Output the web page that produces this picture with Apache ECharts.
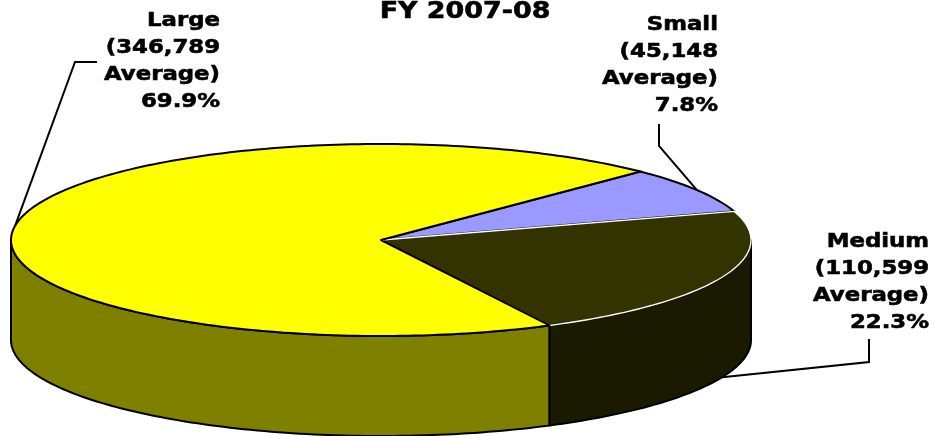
<!DOCTYPE html>
<html>
<head>
<meta charset="utf-8">
<title>FY 2007-08</title>
<script src="https://cdn.jsdelivr.net/npm/echarts@6/dist/echarts.min.js"></script>
<style>
  html, body { margin: 0; padding: 0; background: #fff; }
  #main { width: 935px; height: 436px; }
</style>
</head>
<body>
<div id="main"></div>
<script>
// data
var categories = ['Large', 'Small', 'Medium'];
var averages = ['346,789', '45,148', '110,599'];
var shares = [69.9, 7.8, 22.3];

// look
var topColors = ['#ffff00', '#9999ff', '#333300'];
var sideColors = ['#808000', '#4d4d80', '#1a1a00'];
var topStroke = ['#000', '#000', '#fff'];
var topZ = [12, 10, 11];

// pie geometry (tilted disc)
var cx = 381, cy = 240, rx = 370, ry = 96, depth = 100;
var startAngle = 62.9 * Math.PI / 180; // clockwise from 3 o'clock

// label layout: anchor of right-aligned text, elbow points of leader lines
var labelPos = [[220, 7], [718, 11], [929, 228]];
var leaderElbow = [
  [[75, 62], [97, 62]],
  [[659, 146], [659, 124]],
  [[869, 362], [869, 339]]
];
var leaderOnSide = [false, false, true];

function ept(a, dy) {
  return [cx + rx * Math.cos(a), cy + ry * Math.sin(a) + (dy || 0)];
}

function arc(a0, a1, dy) {
  var n = Math.max(2, Math.ceil(Math.abs(a1 - a0) / 0.02));
  var pts = [];
  for (var k = 0; k <= n; k++) {
    pts.push(ept(a0 + (a1 - a0) * k / n, dy));
  }
  return pts;
}

var total = shares.reduce(function (s, v) { return s + v; }, 0);

function renderItem(params, api) {
  var i = params.dataIndex;
  var a0 = startAngle;
  for (var j = 0; j < i; j++) a0 += shares[j] / total * Math.PI * 2;
  var a1 = a0 + api.value(0) / total * Math.PI * 2;
  var children = [];

  // front wall, only the part facing the viewer
  [-2 * Math.PI, 0, 2 * Math.PI].forEach(function (k) {
    var lo = Math.max(a0, k), hi = Math.min(a1, k + Math.PI);
    if (hi > lo) {
      children.push({
        type: 'polygon',
        z2: 1,
        shape: { points: arc(lo, hi, 0).concat(arc(hi, lo, depth)) },
        style: { fill: sideColors[i], stroke: '#000', lineWidth: 2, lineJoin: 'round' }
      });
    }
  });

  // top face
  children.push({
    type: 'polygon',
    z2: topZ[i],
    shape: { points: [[cx, cy]].concat(arc(a0, a1, 0)) },
    style: { fill: topColors[i], stroke: topStroke[i], lineWidth: topStroke[i] === '#fff' ? 1.4 : 2, lineJoin: 'round' }
  });

  // leader line
  var mid = (a0 + a1) / 2;
  var p = ept(mid, leaderOnSide[i] ? depth : 0);
  children.push({
    type: 'polyline',
    z2: 20,
    shape: { points: [p].concat(leaderElbow[i]) },
    style: { stroke: '#000', lineWidth: 2, fill: null }
  });

  // label
  children.push({
    type: 'text',
    z2: 21,
    x: labelPos[i][0],
    y: labelPos[i][1],
    scaleX: 1.14,
    style: {
      text: categories[i] + '\n(' + averages[i] + '\nAverage)\n' + api.value(0).toFixed(1) + '%',
      fill: '#000',
      stroke: '#000',
      lineWidth: 0.6,
      fontSize: 20,
      fontWeight: 'bold',
      fontFamily: '"DejaVu Sans", Verdana, sans-serif',
      lineHeight: 27,
      align: 'right',
      textAlign: 'right',
      verticalAlign: 'top',
      textVerticalAlign: 'top'
    }
  });

  return { type: 'group', children: children };
}

var chart = echarts.init(document.getElementById('main'), null, { renderer: 'canvas' });
chart.setOption({
  animation: false,
  backgroundColor: '#fff',
  graphic: [{
    type: 'text',
    x: 465,
    y: 12,
    scaleX: 1.17,
    style: {
      text: 'FY 2007-08',
      fill: '#000',
      stroke: '#000',
      lineWidth: 0.6,
      fontSize: 23,
      fontWeight: 'bold',
      fontFamily: '"DejaVu Sans", Verdana, sans-serif',
      textAlign: 'center',
      textVerticalAlign: 'middle'
    }
  }],
  series: [{
    type: 'custom',
    coordinateSystem: 'none',
    silent: true,
    renderItem: renderItem,
    data: shares
  }]
});
</script>
</body>
</html>
